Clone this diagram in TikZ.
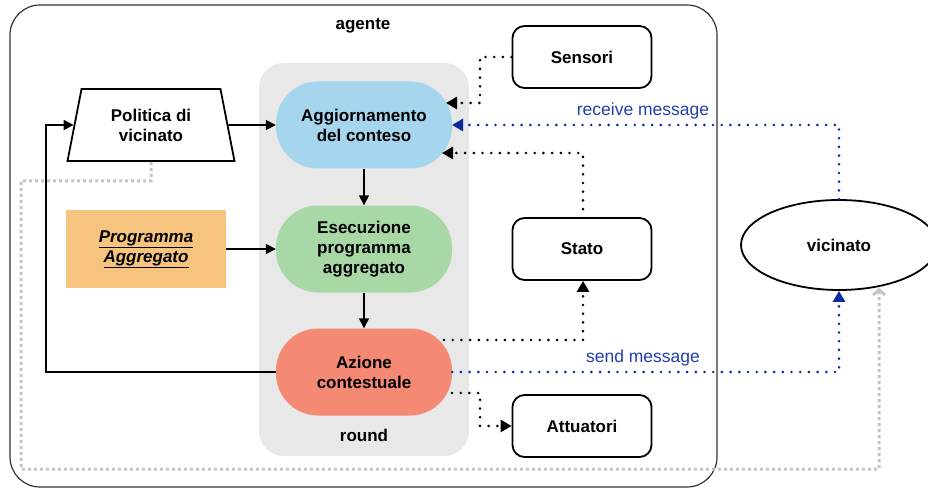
\documentclass[tikz,border=0pt]{standalone}
\usepackage{fontspec}
\setmainfont{Liberation Sans}
\usetikzlibrary{arrows.meta,shapes.geometric,calc}
\definecolor{bluetxt}{HTML}{2340A8}
\definecolor{bluedot}{HTML}{0A2A9E}
\definecolor{aggcol}{HTML}{A5D6EE}
\definecolor{esecol}{HTML}{A8D8A6}
\definecolor{azicol}{HTML}{F48A74}
\definecolor{progcol}{HTML}{F7C47F}
\definecolor{roundcol}{HTML}{E8E8E8}
\definecolor{graydot}{HTML}{C4C4C4}
\begin{document}
\begin{tikzpicture}[x=1pt,y=-1pt,
  font=\fontsize{17}{20}\selectfont\bfseries,
  proc/.style={rectangle, rounded corners=42pt, minimum width=176pt, minimum height=87pt, align=center, inner sep=0pt},
  sidebox/.style={draw, line width=1.8pt, rounded corners=12pt, minimum width=139pt, minimum height=62pt, inner sep=0pt},
  solidarr/.style={line width=1.6pt, -{Triangle[length=10pt,width=10pt]}},
  dotk/.style={line width=2.9pt, line cap=round, dash pattern=on 0pt off 8.7pt, -{Triangle[length=11pt,width=12pt]}},
  dotb/.style={line width=2.9pt, line cap=round, dash pattern=on 0pt off 8.7pt, draw=bluedot, -{Triangle[length=11pt,width=12pt,fill=bluedot]}},
  dotg/.style={line width=3pt, draw=graydot, dash pattern=on 3pt off 3pt, -{Straight Barb[length=5pt,width=12pt]}},
  lbl/.style={font=\fontsize{17.5}{20}\selectfont, text=bluetxt}
]
\useasboundingbox (0,0) rectangle (928,489);
% outer agente box
\draw[line width=1.2pt, draw=black!80, rounded corners=30pt] (10,5) rectangle (717,487);
\node (agente) at (363,26) {agente};
% round container
\fill[roundcol, rounded corners=25pt] (259,63) rectangle (469,456);
\node (roundlbl) at (364,435) {round};
% process nodes
\node[proc, fill=aggcol] (agg) at (364,125) {Aggiornamento\\del conteso};
\node[proc, fill=esecol] (ese) at (364,249) {Esecuzione\\programma\\aggregato};
\node[proc, fill=azicol] (azi) at (364,372) {Azione\\contestuale};
% politica trapezium
\node[trapezium, draw, line width=1.8pt, trapezium stretches=true, trapezium left angle=76, trapezium right angle=76,
      minimum width=168pt, minimum height=72pt, align=center, inner sep=0pt] (pol) at (151,125) {Politica di\\vicinato};
% programma
\node[fill=progcol, minimum width=160pt, minimum height=78pt, align=center, inner sep=0pt, font=\fontsize{17}{20}\selectfont\bfseries\itshape] (prog) at (146,249) {\underline{Programma}\\\underline{Aggregato}};
% side boxes
\node[sidebox] (sen) at (582,57) {Sensori};
\node[sidebox] (sta) at (582,249) {Stato};
\node[sidebox] (att) at (582,426) {Attuatori};
% vicinato
\node[ellipse, draw, line width=1.8pt, minimum width=196pt, minimum height=90pt, inner sep=0pt] (vic) at (839,245) {vicinato};
% solid arrows
\draw[solidarr] (agg.south) -- (ese.north);
\draw[solidarr] (ese.south) -- (azi.north);
\draw[solidarr] (pol.east) -- (agg.west);
\draw[solidarr] (prog.east) -- (ese.west);
\draw[solidarr] (azi.west) -- (46,372) |- (pol.west);
% gray dotted feedback
\coordinate (gtip) at (879,288);
\draw[dotg] (pol.south) -- (151,181) -- (21,181) -- (21,469) -- (879,469) -- (gtip);
% sensori
\coordinate (senin) at (446,103);
\draw[dotk] (sen.west) -- (480,57) -- (480,103) -- (senin);
% stato to agg
\coordinate (stain) at (442,153);
\draw[dotk] ($(sta.north)+(1,-8)$) -- (583,153) -- (stain);
% azione to stato
\coordinate (aziout) at (444,340);
\draw[dotk] (aziout) -- (583,340) -- (sta.south -| 583,0);
% azione to attuatori
\coordinate (aziatt) at (452,393);
\draw[dotk] (aziatt) -- (480,393) -- (480,426) -- (att.west);
% receive message
\coordinate (recin) at (452,125);
\draw[dotb] (vic.north) -- (839,125) -- (recin);
\node[lbl] (reclbl) at (643,111) {receive message};
% send message
\draw[dotb] (azi.east) -- (839,372) -- (vic.south);
\node[lbl] (sendlbl) at (643,358) {send message};
\end{tikzpicture}
\end{document}
